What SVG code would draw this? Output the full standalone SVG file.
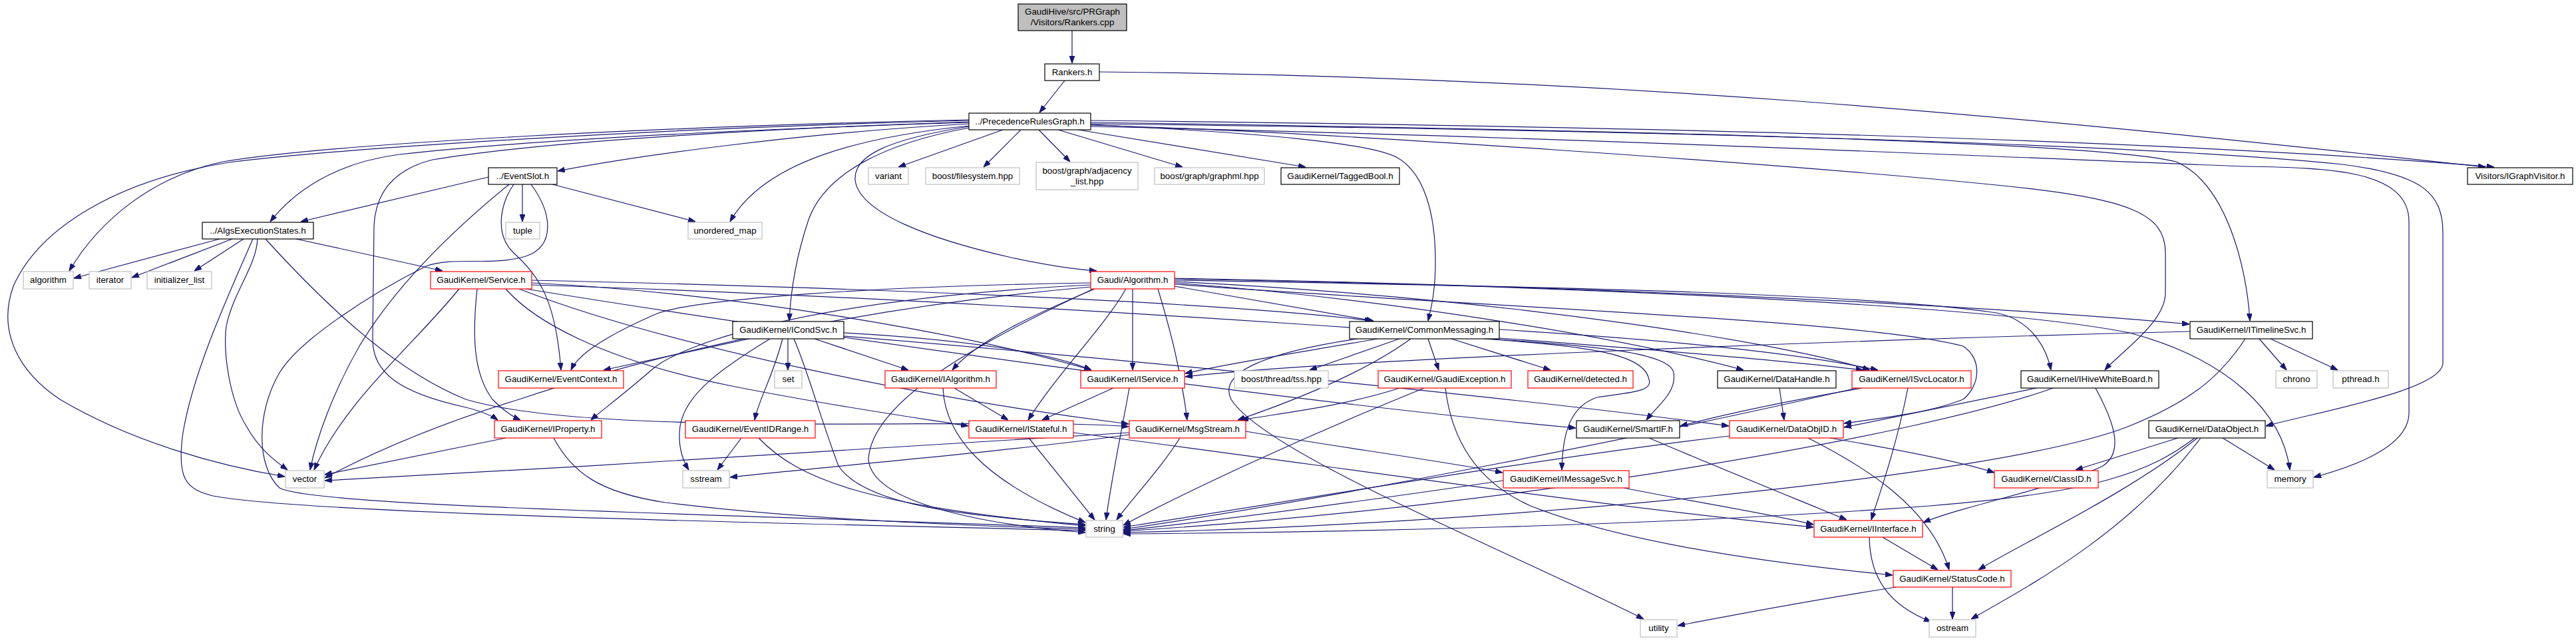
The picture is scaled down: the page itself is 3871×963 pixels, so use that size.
<svg xmlns="http://www.w3.org/2000/svg" width="3871" height="963" viewBox="0 0 3871 963">
<style>
.n rect{fill:#fff;stroke-width:1.2}
.b rect{stroke:#000}
.r rect{stroke:#ff0000}
.g rect{stroke:#bfbfbf}
.root rect{fill:#bfbfbf;stroke:#000}
text{font-family:"Liberation Sans",Arial,Helvetica,sans-serif;font-size:13.33px;text-anchor:middle;fill:#000}
#edges path{fill:none;stroke:#191970;stroke-width:1.2}
</style>
<defs>
<marker id="ah" viewBox="0 0 11 8" refX="11" refY="4" markerWidth="11" markerHeight="8" markerUnits="userSpaceOnUse" orient="auto">
<path d="M0,0 L11,4 L0,8 z" fill="#191970" stroke="#191970"/>
</marker>
</defs>
<rect width="3871" height="963" fill="#fff"/>
<g id="edges" marker-end="url(#ah)">
<path d="M1611,46 L1611,95"/>
<path d="M1600,121 L1562,169"/>
<path d="M1652,108 C2400,115 3000,170 3735,251"/>
<path d="M1639,181 C2300,188 3200,205 3748,251"/>
<path d="M1639,184 C2400,195 3150,212 3270,243 C3345,275 3376,400 3381,482"/>
<path d="M1639,188 C2000,198 2700,248 3000,278 C3200,298 3254,320 3254,380 L3254,440 C3254,485 3185,530 3163,556"/>
<path d="M1639,186 C2400,195 3200,214 3520,247 C3640,262 3671,290 3671,350 L3671,545 C3671,585 3500,615 3405,640"/>
<path d="M1639,190 C2400,207 3100,240 3373,250 C3500,252 3620,255 3620,333 L3620,620 C3620,670 3540,700 3477,717"/>
<path d="M1639,187 C1900,200 2060,215 2100,237 C2140,260 2157,320 2157,393 C2157,440 2150,465 2146,482"/>
<path d="M1620,195 L1962,251"/>
<path d="M1590,195 L1777,251"/>
<path d="M1561,195 L1608,243"/>
<path d="M1534,195 L1478,251"/>
<path d="M1507,195 L1350,251"/>
<path d="M1456,186 C1200,200 950,235 838,257"/>
<path d="M1456,189 C1300,205 1150,240 1097,333"/>
<path d="M1456,192 C1330,215 1240,260 1215,330 C1195,390 1188,440 1186,482"/>
<path d="M1456,190 C1330,210 1283,235 1285,270 C1290,320 1400,360 1520,387 C1585,401 1620,405 1648,407"/>
<path d="M1456,184 C1100,195 800,210 600,232 C500,245 440,290 406,333"/>
<path d="M1456,180 C1000,190 500,215 335,243 C230,265 150,330 104,407"/>
<path d="M1456,181 C1000,192 520,222 344,244 C180,270 60,340 20,430 C-5,500 30,560 90,600 C200,665 330,700 428,716"/>
<path d="M1456,183 C1100,195 800,215 650,240 C590,255 564,290 562,340 L560,510 C560,560 600,590 700,612 C720,617 738,624 748,631"/>
<path d="M734,266 L452,333"/>
<path d="M785,277 L785,333"/>
<path d="M830,277 L1045,333"/>
<path d="M772,277 C755,300 740,350 772,380 C810,415 835,450 843,556"/>
<path d="M765,277 C700,330 600,420 540,520 C500,590 475,660 466,706"/>
<path d="M798,277 C830,320 835,370 790,385 C740,400 680,385 640,400 C560,440 450,510 420,560 C385,620 385,700 420,733 C470,760 1000,770 1631,793"/>
<path d="M330,359 L111,418"/>
<path d="M349,359 L198,417"/>
<path d="M366,359 L292,407"/>
<path d="M445,359 L665,407"/>
<path d="M387,359 C385,400 350,440 340,490 C335,530 345,600 370,640 C390,675 410,690 432,706"/>
<path d="M380,359 C340,450 290,560 275,650 C265,720 280,735 320,745 C450,770 1100,785 1631,797"/>
<path d="M399,359 C500,470 600,560 700,600 C900,660 1500,625 1696,641"/>
<path d="M690,434 C620,520 520,600 472,706"/>
<path d="M717,434 C710,500 710,560 740,600 C760,620 775,628 782,631"/>
<path d="M799,425 C1100,440 1450,500 1640,556"/>
<path d="M799,421 C1200,430 1800,450 2062,482"/>
<path d="M799,428 C1500,450 2500,520 2800,556"/>
<path d="M760,434 C800,480 900,540 1100,580 C1250,610 1380,628 1455,640"/>
<path d="M790,434 C1200,500 1900,600 2368,643"/>
<path d="M780,434 C1000,520 1400,600 1696,637"/>
<path d="M1645,434 C1560,470 1470,510 1431,556"/>
<path d="M1692,434 C1660,490 1590,560 1545,631"/>
<path d="M1702,434 L1702,556"/>
<path d="M1765,430 L2064,482"/>
<path d="M1643,434 C1480,510 1310,600 1305,690 C1310,760 1500,790 1631,800"/>
<path d="M1639,425 C1300,430 1050,450 990,470 C920,500 870,530 858,556"/>
<path d="M1639,428 C1200,450 1020,520 980,555 C940,590 900,620 888,631"/>
<path d="M1639,431 C1200,470 900,560 780,600 C650,640 560,680 488,718"/>
<path d="M1765,418 C2400,430 3000,460 3290,487"/>
<path d="M1765,421 C2300,430 2800,440 3000,470 C3050,480 3075,520 3082,556"/>
<path d="M1765,425 C2100,450 2450,510 2620,556"/>
<path d="M1765,427 C2200,460 2800,480 2950,520 C2980,540 2975,580 2950,600 C2900,620 2830,628 2771,636"/>
<path d="M1765,423 C2300,450 2700,520 2810,556"/>
<path d="M1765,419 C2400,430 3000,460 3200,500 C3350,540 3430,620 3441,706"/>
<path d="M1740,434 C1760,500 1775,560 1784,631"/>
<path d="M2070,509 C1950,530 1850,545 1781,561"/>
<path d="M2103,509 L1968,556"/>
<path d="M2146,509 L2162,556"/>
<path d="M2181,509 L2330,556"/>
<path d="M2120,509 C2050,560 1950,600 1860,631"/>
<path d="M2240,509 C2400,520 2510,530 2515,560 C2520,590 2490,610 2474,631"/>
<path d="M2230,509 C2380,520 2470,530 2478,570 C2485,590 2440,590 2400,597 C2360,610 2348,650 2347,706"/>
<path d="M2253,495 C2500,510 2700,530 2822,556"/>
<path d="M2040,509 C1900,530 1830,560 1850,600 C1900,680 2250,820 2470,930"/>
<path d="M2140,583 C1950,660 1780,740 1688,789"/>
<path d="M2103,583 C2020,610 1930,620 1865,631"/>
<path d="M2172,583 C2180,650 2210,720 2300,760 C2450,820 2700,850 2844,864"/>
<path d="M2674,583 L2681,631"/>
<path d="M2867,583 C2850,670 2825,740 2812,781"/>
<path d="M2798,583 C2700,600 2600,620 2525,640"/>
<path d="M2790,583 C2500,650 2000,750 1688,795"/>
<path d="M3149,583 C3180,640 3190,680 3160,700 C3100,730 2950,760 2890,785"/>
<path d="M3060,583 C2950,605 2850,625 2771,642"/>
<path d="M3085,583 C2900,650 2300,760 1688,798"/>
<path d="M3395,509 L3436,556"/>
<path d="M3412,509 L3513,556"/>
<path d="M3291,498 C2800,510 2000,540 1781,566"/>
<path d="M3374,509 C3340,560 3300,600 3200,640 C3000,720 2200,790 1688,800"/>
<path d="M3273,658 L3119,706"/>
<path d="M3340,658 L3418,706"/>
<path d="M3302,658 C3200,740 3050,810 2973,856"/>
<path d="M3307,658 C3200,800 3050,880 2962,930"/>
<path d="M3298,658 C3230,710 3150,740 2900,760 C2500,790 2000,800 1688,802"/>
<path d="M2750,658 C2850,675 2950,695 2997,710"/>
<path d="M2717,658 C2800,700 2900,760 2929,856"/>
<path d="M2599,655 C2300,690 1900,760 1688,792"/>
<path d="M2478,658 C2600,710 2700,750 2775,781"/>
<path d="M2440,733 C2550,755 2650,770 2725,788"/>
<path d="M2259,722 C2000,760 1800,785 1688,797"/>
<path d="M1872,648 C2000,670 2150,690 2258,710"/>
<path d="M1773,658 C1740,710 1700,750 1678,781"/>
<path d="M1697,653 C1500,680 1250,700 1097,717"/>
<path d="M1697,650 C1400,670 900,700 488,722"/>
<path d="M1613,650 C2000,700 2400,760 2725,792"/>
<path d="M1546,658 C1580,700 1620,750 1645,781"/>
<path d="M1673,583 L1566,631"/>
<path d="M1697,583 C1685,650 1670,720 1662,781"/>
<path d="M1434,583 L1515,631"/>
<path d="M1417,583 C1420,650 1470,720 1631,785"/>
<path d="M760,658 C650,680 550,700 488,713"/>
<path d="M832,658 C860,710 900,740 1000,755 C1200,780 1450,790 1631,795"/>
<path d="M1114,658 L1078,706"/>
<path d="M1140,658 C1200,720 1300,760 1631,790"/>
<path d="M1126,509 L907,556"/>
<path d="M1157,509 C1090,550 1030,590 1022,640 C1018,670 1025,690 1035,706"/>
<path d="M1176,509 C1160,570 1140,600 1134,631"/>
<path d="M1184,509 L1184,556"/>
<path d="M1193,509 C1215,560 1230,620 1260,700 C1300,760 1450,775 1631,788"/>
<path d="M1224,509 L1365,556"/>
<path d="M1268,500 C1450,510 1580,530 1640,556"/>
<path d="M1268,505 C1700,540 2300,600 2598,640"/>
<path d="M2829,807 L2912,856"/>
<path d="M2809,807 C2810,870 2840,910 2902,934"/>
<path d="M2934,882 L2934,930"/>
<path d="M2850,882 C2700,905 2600,925 2521,940"/>
</g>
<g id="root" class="n root"><rect x="1530" y="6" width="163" height="40"/><text x="1611.5" y="22">GaudiHive/src/PRGraph</text><text x="1611.5" y="38">/Visitors/Rankers.cpp</text></g>
<g id="rankers" class="n b"><rect x="1570" y="96" width="82" height="25"/><text x="1611" y="113">Rankers.h</text></g>
<g id="prg" class="n b"><rect x="1456" y="170" width="183" height="25"/><text x="1547.5" y="187">../PrecedenceRulesGraph.h</text></g>
<g id="eventslot" class="n b"><rect x="734" y="252" width="103" height="25"/><text x="785.5" y="269">../EventSlot.h</text></g>
<g id="variant" class="n g"><rect x="1305" y="252" width="60" height="25"/><text x="1335" y="269">variant</text></g>
<g id="fs" class="n g"><rect x="1391" y="252" width="141" height="25"/><text x="1461.5" y="269">boost/filesystem.hpp</text></g>
<g id="adj" class="n g"><rect x="1557" y="244" width="153" height="41"/><text x="1633.5" y="261">boost/graph/adjacency</text><text x="1633.5" y="277">_list.hpp</text></g>
<g id="graphml" class="n g"><rect x="1735" y="252" width="165" height="25"/><text x="1817.5" y="269">boost/graph/graphml.hpp</text></g>
<g id="tagged" class="n b"><rect x="1925" y="252" width="178" height="25"/><text x="2014" y="269">GaudiKernel/TaggedBool.h</text></g>
<g id="visitors" class="n b"><rect x="3708" y="252" width="158" height="25"/><text x="3787" y="269">Visitors/IGraphVisitor.h</text></g>
<g id="algsexec" class="n b"><rect x="304" y="334" width="167" height="25"/><text x="387.5" y="351">../AlgsExecutionStates.h</text></g>
<g id="tuple" class="n g"><rect x="760" y="334" width="51" height="25"/><text x="785.5" y="351">tuple</text></g>
<g id="umap" class="n g"><rect x="1034" y="334" width="111" height="25"/><text x="1089.5" y="351">unordered_map</text></g>
<g id="algorithm" class="n g"><rect x="35" y="408" width="75" height="26"/><text x="72.5" y="425">algorithm</text></g>
<g id="iterator" class="n g"><rect x="134" y="408" width="63" height="26"/><text x="165.5" y="425">iterator</text></g>
<g id="initlist" class="n g"><rect x="221" y="408" width="97" height="26"/><text x="269.5" y="425">initializer_list</text></g>
<g id="service" class="n r"><rect x="647" y="408" width="152" height="26"/><text x="723" y="425">GaudiKernel/Service.h</text></g>
<g id="galg" class="n r"><rect x="1639" y="408" width="126" height="26"/><text x="1702" y="425">Gaudi/Algorithm.h</text></g>
<g id="icondsvc" class="n b"><rect x="1101" y="483" width="167" height="26"/><text x="1184.5" y="500">GaudiKernel/ICondSvc.h</text></g>
<g id="commsg" class="n b"><rect x="2028" y="483" width="225" height="26"/><text x="2140.5" y="500">GaudiKernel/CommonMessaging.h</text></g>
<g id="timeline" class="n b"><rect x="3291" y="483" width="184" height="26"/><text x="3383" y="500">GaudiKernel/ITimelineSvc.h</text></g>
<g id="eventctx" class="n r"><rect x="749" y="557" width="188" height="26"/><text x="843" y="574">GaudiKernel/EventContext.h</text></g>
<g id="set" class="n g"><rect x="1164" y="557" width="41" height="26"/><text x="1184.5" y="574">set</text></g>
<g id="ialg" class="n r"><rect x="1330" y="557" width="167" height="26"/><text x="1413.5" y="574">GaudiKernel/IAlgorithm.h</text></g>
<g id="iservice" class="n r"><rect x="1624" y="557" width="156" height="26"/><text x="1702" y="574">GaudiKernel/IService.h</text></g>
<g id="tss" class="n g"><rect x="1855" y="557" width="141" height="26"/><text x="1925.5" y="574">boost/thread/tss.hpp</text></g>
<g id="gexc" class="n r"><rect x="2071" y="557" width="200" height="26"/><text x="2171" y="574">GaudiKernel/GaudiException.h</text></g>
<g id="detected" class="n r"><rect x="2296" y="557" width="158" height="26"/><text x="2375" y="574">GaudiKernel/detected.h</text></g>
<g id="datahandle" class="n b"><rect x="2581" y="557" width="178" height="26"/><text x="2670" y="574">GaudiKernel/DataHandle.h</text></g>
<g id="isvcloc" class="n r"><rect x="2783" y="557" width="179" height="26"/><text x="2872.5" y="574">GaudiKernel/ISvcLocator.h</text></g>
<g id="ihive" class="n b"><rect x="3037" y="557" width="207" height="26"/><text x="3140.5" y="574">GaudiKernel/IHiveWhiteBoard.h</text></g>
<g id="chrono" class="n g"><rect x="3420" y="557" width="62" height="26"/><text x="3451" y="574">chrono</text></g>
<g id="pthread" class="n g"><rect x="3506" y="557" width="83" height="26"/><text x="3547.5" y="574">pthread.h</text></g>
<g id="iproperty" class="n r"><rect x="743" y="632" width="161" height="26"/><text x="823.5" y="649">GaudiKernel/IProperty.h</text></g>
<g id="eventidrange" class="n r"><rect x="1030" y="632" width="195" height="26"/><text x="1127.5" y="649">GaudiKernel/EventIDRange.h</text></g>
<g id="istateful" class="n r"><rect x="1456" y="632" width="157" height="26"/><text x="1534.5" y="649">GaudiKernel/IStateful.h</text></g>
<g id="msgstream" class="n r"><rect x="1697" y="632" width="175" height="26"/><text x="1784.5" y="649">GaudiKernel/MsgStream.h</text></g>
<g id="smartif" class="n b"><rect x="2369" y="632" width="155" height="26"/><text x="2446.5" y="649">GaudiKernel/SmartIF.h</text></g>
<g id="dataobjid" class="n r"><rect x="2599" y="632" width="171" height="26"/><text x="2684.5" y="649">GaudiKernel/DataObjID.h</text></g>
<g id="dataobject" class="n b"><rect x="3229" y="632" width="175" height="26"/><text x="3316.5" y="649">GaudiKernel/DataObject.h</text></g>
<g id="vector" class="n g"><rect x="429" y="707" width="58" height="26"/><text x="458" y="724">vector</text></g>
<g id="sstream" class="n g"><rect x="1026" y="707" width="70" height="26"/><text x="1061" y="724">sstream</text></g>
<g id="imsgsvc" class="n r"><rect x="2259" y="707" width="189" height="26"/><text x="2353.5" y="724">GaudiKernel/IMessageSvc.h</text></g>
<g id="classid" class="n r"><rect x="2997" y="707" width="156" height="26"/><text x="3075" y="724">GaudiKernel/ClassID.h</text></g>
<g id="memory" class="n g"><rect x="3407" y="707" width="69" height="26"/><text x="3441.5" y="724">memory</text></g>
<g id="string" class="n g"><rect x="1632" y="782" width="55" height="25"/><text x="1659.5" y="799">string</text></g>
<g id="iinterface" class="n r"><rect x="2726" y="782" width="163" height="25"/><text x="2807.5" y="799">GaudiKernel/IInterface.h</text></g>
<g id="statuscode" class="n r"><rect x="2845" y="857" width="177" height="25"/><text x="2933.5" y="874">GaudiKernel/StatusCode.h</text></g>
<g id="utility" class="n g"><rect x="2465" y="931" width="55" height="26"/><text x="2492.5" y="948">utility</text></g>
<g id="ostream" class="n g"><rect x="2899" y="931" width="70" height="26"/><text x="2934" y="948">ostream</text></g>
</svg>
